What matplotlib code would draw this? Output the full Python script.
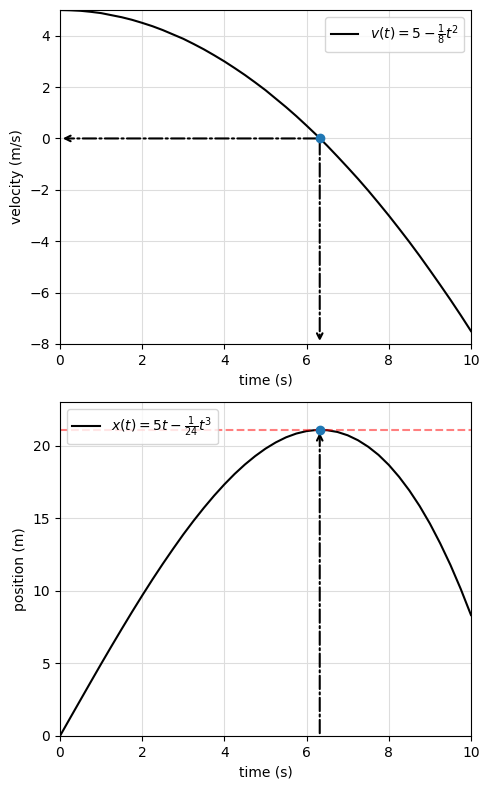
import matplotlib
matplotlib.use("Agg")
import matplotlib.pyplot as plt

# values, t in seconds
t = [0, 0.25, 0.5, 0.75, 1, 1.25, 1.5, 1.75, 2, 2.25, 2.5, 2.75, 3, 3.25, 3.5, 3.75,
     4, 4.25, 4.5, 4.75, 5, 5.25, 5.5, 5.75, 6, 6.25, 6.5, 6.75, 7, 7.25, 7.5, 7.75,
     8, 8.25, 8.5, 8.75, 9, 9.25, 9.5, 9.75, 10]
v = [5.0, 4.99, 4.97, 4.93, 4.88, 4.80, 4.72, 4.62, 4.5, 4.37, 4.22, 4.05, 3.88,
     3.68, 3.47, 3.24, 3.0, 2.74, 2.47, 2.18, 1.88, 1.55, 1.22, 0.87, 0.5, 0.12,
     -0.28, -0.70, -1.13, -1.57, -2.03, -2.51, -3.0, -3.51, -4.03, -4.57, -5.13,
     -5.70, -6.28, -6.88, -7.5]
x = [0.0, 1.25, 2.49, 3.73, 4.96, 6.17, 7.36, 8.53, 9.67, 10.78, 11.85, 12.88,
     13.88, 14.82, 15.71, 16.55, 17.33, 18.05, 18.70, 19.28, 19.79, 20.22, 20.57,
     20.83, 21.0, 21.08, 21.06, 20.94, 20.71, 20.37, 19.92, 19.36, 18.67, 17.85,
     16.91, 15.84, 14.63, 13.27, 11.78, 10.13, 8.33]

t_stop = 6.32   # v = 0 here
x_max = 21.08

fig, (ax1, ax2) = plt.subplots(2, 1, figsize=(4.9, 7.89), dpi=100)
plt.subplots_adjust(left=0.1224, right=0.9612, top=0.9873, bottom=0.0672, hspace=0.174)

# velocity
ax1.plot(t, v, 'k-', label=r'$v(t)=5-\frac{1}{8}t^2$')
ax1.plot(t_stop, 0, 'o', color='tab:blue', zorder=5)
ax1.annotate('', xy=(0, 0), xytext=(t_stop, 0),
             arrowprops=dict(arrowstyle='->', linestyle='-.', color='k', lw=1.5))
ax1.annotate('', xy=(t_stop, -8), xytext=(t_stop, 0),
             arrowprops=dict(arrowstyle='->', linestyle='-.', color='k', lw=1.5))
ax1.set_xlim(0, 10)
ax1.set_ylim(-8, 5)
ax1.set_xlabel('time (s)')
ax1.set_ylabel('velocity (m/s)')
ax1.grid(True, color='#dddddd')
ax1.legend(loc='upper right')

# position
ax2.plot(t, x, 'k-', label=r'$x(t)=5t-\frac{1}{24}t^3$')
ax2.axhline(x_max, color='red', ls='--', alpha=0.5)
ax2.plot(t_stop, x_max, 'o', color='tab:blue', zorder=5)
ax2.annotate('', xy=(t_stop, x_max), xytext=(t_stop, 0),
             arrowprops=dict(arrowstyle='->', linestyle='-.', color='k', lw=1.5))
ax2.set_xlim(0, 10)
ax2.set_ylim(0, 23)
ax2.set_xlabel('time (s)')
ax2.set_ylabel('position (m)')
ax2.grid(True, color='#dddddd')
ax2.legend(loc='upper left')

plt.savefig('out.png')
